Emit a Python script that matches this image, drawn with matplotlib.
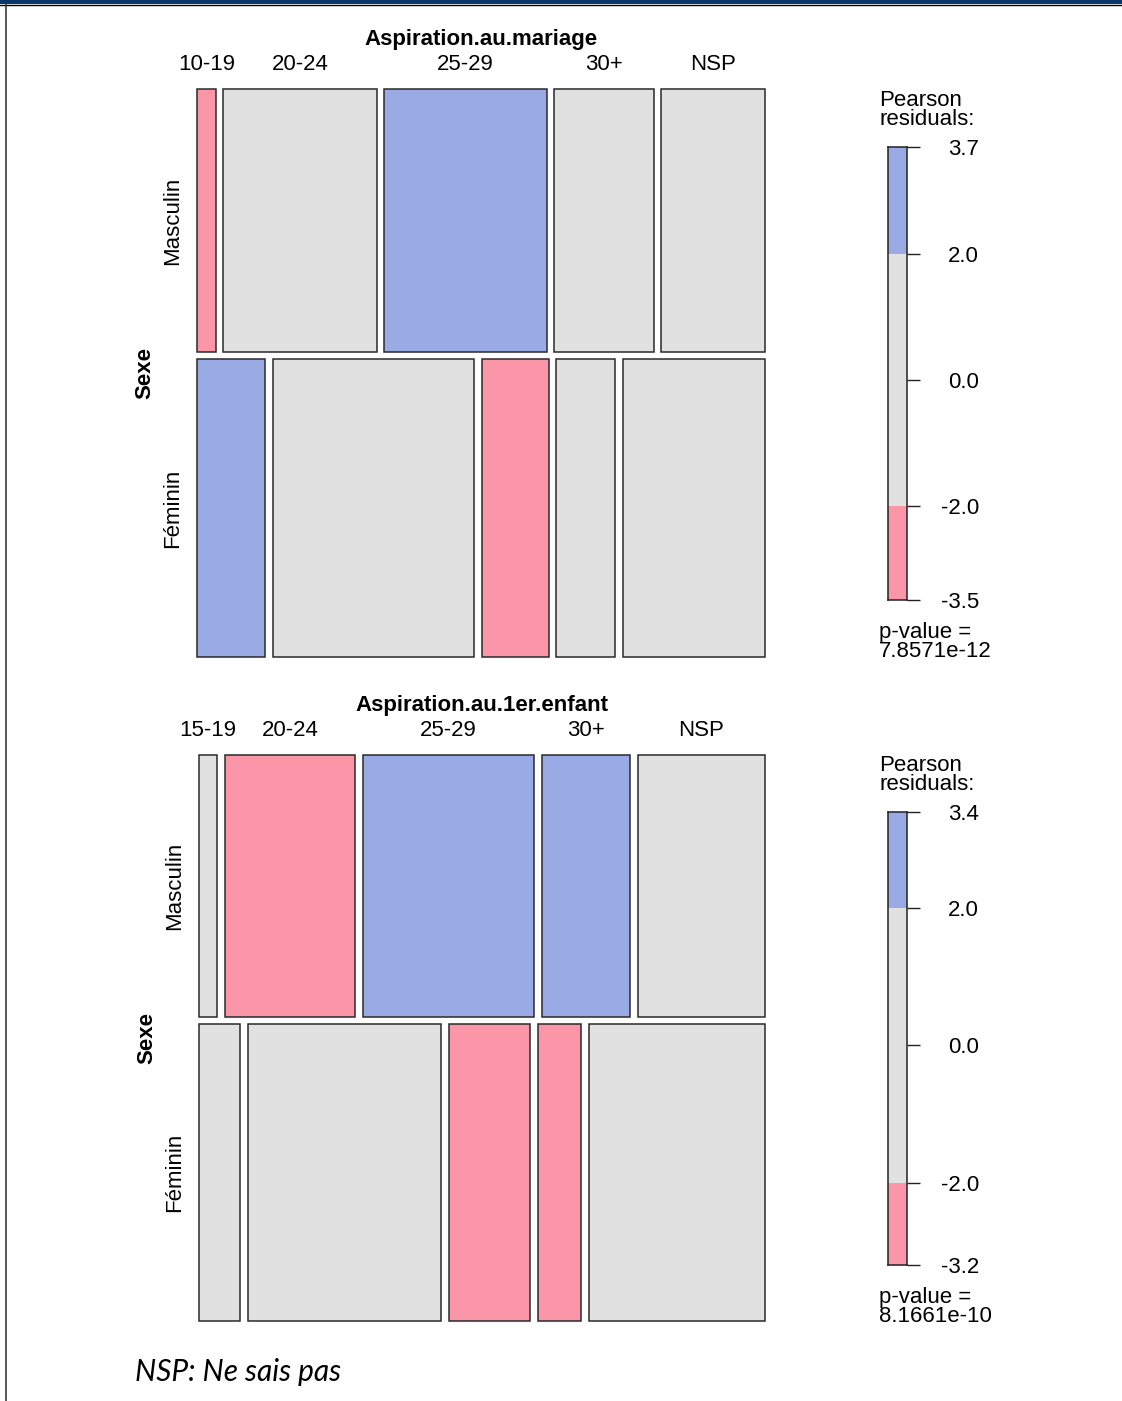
import numpy as np
import matplotlib.pyplot as plt
from matplotlib.patches import Rectangle
from matplotlib.lines import Line2D

plt.rcParams['font.family'] = ['Liberation Sans', 'DejaVu Sans']

sexes = ["Masculin", "Féminin"]

# Aspiration au mariage (share of each row, %)
mariage_cats = ["10-19", "20-24", "25-29", "30+", "NSP"]
mariage_row_share = [46.9, 53.1]
mariage_masc = [3.5, 28.5, 30.2, 18.5, 19.3]
mariage_fem = [12.7, 37.4, 12.5, 11.0, 26.4]
# residual sign class: 1 = > 2, -1 = < -2, 0 = in between
mariage_shade_masc = [-1, 0, 1, 0, 0]
mariage_shade_fem = [1, 0, -1, 0, 0]
mariage_resid = (-3.5, 3.7)
mariage_pvalue = "7.8571e-12"

# Aspiration au 1er enfant
enfant_cats = ["15-19", "20-24", "25-29", "30+", "NSP"]
enfant_row_share = [46.9, 53.1]
enfant_masc = [3.4, 24.3, 32.1, 16.4, 23.8]
enfant_fem = [7.7, 36.2, 15.1, 8.1, 32.9]
enfant_shade_masc = [0, -1, 1, 1, 0]
enfant_shade_fem = [0, 0, -1, -1, 0]
enfant_resid = (-3.2, 3.4)
enfant_pvalue = "8.1661e-10"

colors = {1: "#9aaae4", 0: "#e1e1e1", -1: "#fa96a8"}
W, H = 1122, 1401


def mosaic(ax, title, cats, row_share, rows, shades, hgap, vgap):
    ax.set_xlim(0, 1)
    ax.set_ylim(1, 0)
    ax.axis("off")
    heights = np.array(row_share) / sum(row_share) * (1 - vgap * (len(rows) - 1))
    y = 0
    for i, (vals, sh) in enumerate(zip(rows, shades)):
        widths = np.array(vals) / sum(vals) * (1 - hgap * (len(vals) - 1))
        x = 0
        for j, w in enumerate(widths):
            ax.add_patch(Rectangle((x, y), w, heights[i], fc=colors[sh[j]],
                                   ec="#2a2a2a", lw=1.1, clip_on=False))
            if i == 0:
                ax.annotate(cats[j], (x + w / 2, 0), xytext=(0, 24),
                            textcoords="offset pixels", ha="center", va="center",
                            fontsize=16, annotation_clip=False)
            x += w + hgap
        ax.annotate(sexes[i], (0, y + heights[i] / 2), xytext=(-24, 0),
                    textcoords="offset pixels", ha="center", va="center",
                    rotation=90, fontsize=16, annotation_clip=False)
        y += heights[i] + vgap
    ax.annotate(title, (0.5, 0), xytext=(0, 50), textcoords="offset pixels",
                ha="center", va="center", fontsize=16, fontweight="bold",
                annotation_clip=False)
    ax.annotate("Sexe", (0, 0.5), xytext=(-52, 0), textcoords="offset pixels",
                ha="center", va="center", rotation=90, fontsize=16,
                fontweight="bold", annotation_clip=False)


def legend(lax, rng, pval):
    lo, hi = rng
    lax.set_xlim(0, 1)
    lax.set_ylim(lo, hi)
    lax.axhspan(lo, -2, color=colors[-1], lw=0)
    lax.axhspan(-2, 2, color=colors[0], lw=0)
    lax.axhspan(2, hi, color=colors[1], lw=0)
    for s in lax.spines.values():
        s.set_linewidth(1.1)
        s.set_color("#222222")
    lax.set_xticks([])
    lax.yaxis.tick_right()
    ticks = [hi, 2, 0, -2, lo]
    lax.set_yticks(ticks)
    lax.set_yticklabels([f"{t:.1f}" for t in ticks], fontsize=16)
    lax.tick_params(axis="y", length=9.4, width=1.0, pad=42.5, colors="#222222")
    for lab in lax.get_yticklabels():
        lab.set_ha("right")
        lab.set_color("black")
    lax.annotate("Pearson\nresiduals:", (0, 1), xycoords="axes fraction",
                 xytext=(-9, 37), textcoords="offset pixels", ha="left",
                 va="center", fontsize=16, linespacing=0.9,
                 annotation_clip=False)
    lax.annotate("p-value =\n" + pval, (0, 0), xycoords="axes fraction",
                 xytext=(-9, -42), textcoords="offset pixels", ha="left",
                 va="center", fontsize=16, linespacing=0.9,
                 annotation_clip=False)


fig = plt.figure(figsize=(W / 100, H / 100), dpi=100)

ax1 = fig.add_axes([197 / W, 1 - 657 / H, 568 / W, 568 / H])
mosaic(ax1, "Aspiration.au.mariage", mariage_cats, mariage_row_share,
       [mariage_masc, mariage_fem], [mariage_shade_masc, mariage_shade_fem],
       7.5 / 568, 7 / 568)

ax2 = fig.add_axes([199 / W, 1 - 1321 / H, 566 / W, 566 / H])
mosaic(ax2, "Aspiration.au.1er.enfant", enfant_cats, enfant_row_share,
       [enfant_masc, enfant_fem], [enfant_shade_masc, enfant_shade_fem],
       8 / 566, 7 / 566)

lax1 = fig.add_axes([888 / W, 1 - 600 / H, 19 / W, 453 / H])
legend(lax1, mariage_resid, mariage_pvalue)

lax2 = fig.add_axes([888 / W, 1 - 1265 / H, 19 / W, 453 / H])
legend(lax2, enfant_resid, enfant_pvalue)

# page frame
fig.add_artist(Rectangle((0, 1 - 4 / H), 1, 4 / H, transform=fig.transFigure,
                         color="#08386a", lw=0))
fig.add_artist(Line2D([0, 1], [1 - 4.5 / H] * 2, transform=fig.transFigure,
                      color="black", lw=1))
fig.add_artist(Line2D([5.5 / W] * 2, [0, 1 - 4 / H], transform=fig.transFigure,
                      color="#3a3a3a", lw=1.2))

fig.text(135 / W, 1 - 1372 / H, "NSP: Ne sais pas", family=["Lato", "DejaVu Sans"],
         style="italic", fontsize=21.5, va="center", ha="left")

fig.savefig("out.png", dpi=100)
